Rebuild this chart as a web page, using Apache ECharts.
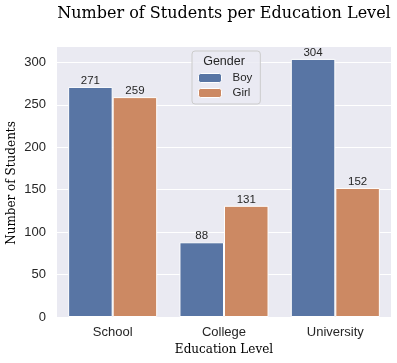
<!DOCTYPE html>
<html><head><meta charset="utf-8">
<script src="https://cdn.jsdelivr.net/npm/echarts@6/dist/echarts.min.js"></script>
<style>html,body{margin:0;padding:0;background:#fff}#c{width:397px;height:363px}</style>
</head><body><div id="c"></div>
<script>
const categories = ['School', 'College', 'University'];
const boy = [271, 88, 304];
const girl = [259, 131, 152];
const yTicks = [0, 50, 100, 150, 200, 250, 300];

const chart = echarts.init(document.getElementById('c'), null, {renderer: 'canvas'});
const sans = 'Liberation Sans, Arial, sans-serif';
const serif = 'DejaVu Serif, serif';
const labelStyle = {show: true, position: 'top', distance: 0, color: '#262626', fontSize: 11.5, fontFamily: sans};
chart.setOption({
  animation: false,
  grid: {left: 57, right: 6, top: 46, bottom: 46, backgroundColor: '#EAEAF2', show: true, borderWidth: 0,
    containLabel: false, outerBoundsMode: 'none'},
  legend: {orient: 'vertical', left: 192, top: 51, width: 64, padding: [21, 8, 5, 6], itemGap: 3,
    itemWidth: 23, itemHeight: 9, borderColor: '#cccccc', borderWidth: 1, borderRadius: 3,
    backgroundColor: 'rgba(234,234,242,0.8)',
    textStyle: {fontFamily: sans, fontSize: 11.5, color: '#262626', padding: [0, 0, 0, 6]},
    itemStyle: {borderWidth: 1, borderColor: '#fff'},
    data: ['Boy', 'Girl']},
  graphic: [
    {type: 'text', x: 224, y: 14, z: 100, style: {text: 'Number of Students per Education Level', fontFamily: serif, fontSize: 16,
      fill: '#000', align: 'center', verticalAlign: 'middle'}},
    {type: 'text', x: 224, y: 62, z: 100, style: {text: 'Gender', fontFamily: sans, fontSize: 12.5, fill: '#262626',
      align: 'center', verticalAlign: 'middle'}},
    {type: 'text', x: 12, y: 183, rotation: Math.PI / 2, z: 100, style: {text: 'Number of Students', fontFamily: serif, fontSize: 12,
      fill: '#000', align: 'center', verticalAlign: 'middle'}}
  ],
  xAxis: {type: 'category', data: categories, name: 'Education Level', nameLocation: 'middle', nameGap: 25,
    nameTextStyle: {fontFamily: serif, fontSize: 12, color: '#000'},
    axisLine: {show: false}, axisTick: {show: false},
    axisLabel: {fontFamily: sans, fontSize: 13, color: '#262626', margin: 9}},
  yAxis: {type: 'value', min: 0, max: 319.2, interval: 50,
    axisLine: {show: false}, axisTick: {show: false},
    splitLine: {lineStyle: {color: '#fff', width: 1}},
    axisLabel: {fontFamily: sans, fontSize: 13, color: '#262626', margin: 11,
      formatter: v => yTicks.includes(v) ? String(v) : ''}},
  series: [
    {name: 'Boy', type: 'bar', data: boy, barGap: '0%', barCategoryGap: '20%',
      itemStyle: {color: '#5875a4', borderColor: '#fff', borderWidth: 1}, label: labelStyle},
    {name: 'Girl', type: 'bar', data: girl,
      itemStyle: {color: '#cc8963', borderColor: '#fff', borderWidth: 1}, label: labelStyle}
  ]
});
</script></body></html>
